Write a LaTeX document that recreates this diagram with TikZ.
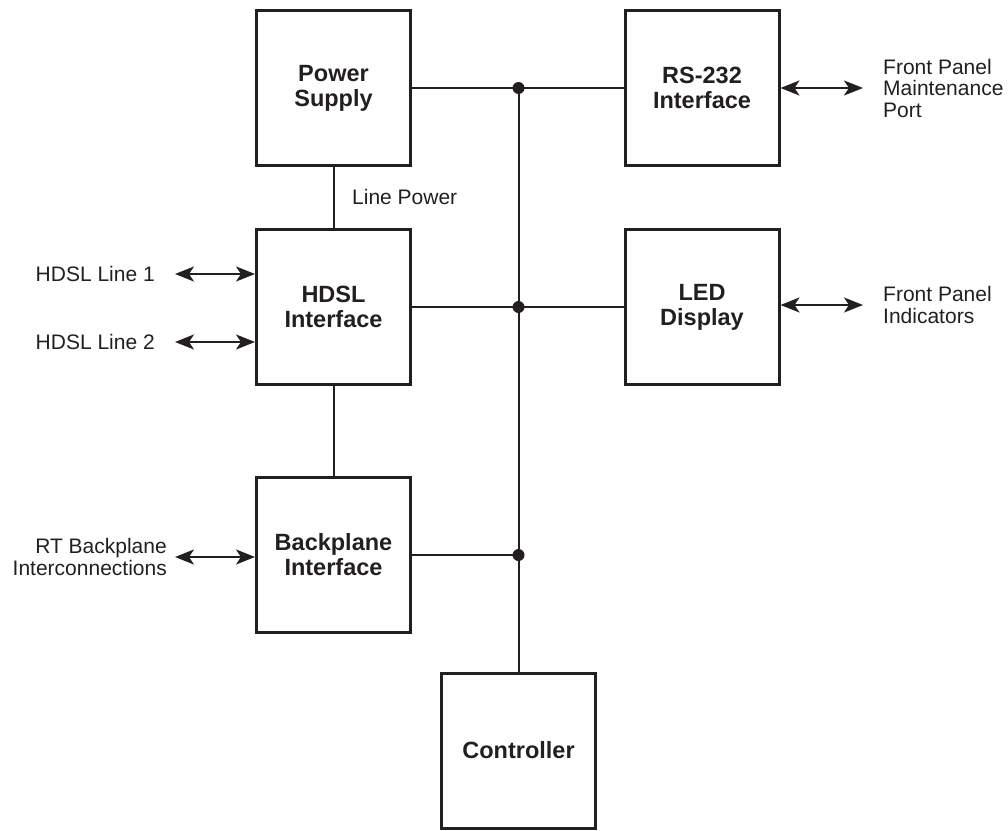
\documentclass[tikz,border=0pt]{standalone}
\usepackage{fontspec}
\setmainfont{Liberation Sans}
\usetikzlibrary{arrows.meta}
\definecolor{ink}{HTML}{231F20}
\begin{document}
\begin{tikzpicture}[x=1pt,y=-1pt, color=ink,
  blk/.style={draw, line width=3pt, minimum width=154pt, minimum height=155pt, inner sep=0pt, align=center, font=\fontsize{23.5}{25}\selectfont\bfseries},
  wire/.style={line width=2pt},
  io/.style={line width=2pt, {Stealth[length=19pt,width=15pt,inset=5pt]}-{Stealth[length=19pt,width=15pt,inset=5pt]}},
  lbl/.style={font=\fontsize{21}{21.5}\selectfont, inner sep=0pt},
  jdot/.style={circle, fill, inner sep=0pt, minimum size=12pt}]
\useasboundingbox (0,0) rectangle (1008,830);
% blocks
\node[blk] (ps)   at (333.5,88)  {Power\\Supply};
\node[blk] (rs)   at (702,88)    {RS-232\\Interface};
\node[blk] (hdsl) at (333.5,307) {HDSL\\Interface};
\node[blk] (led)  at (702,307)   {LED\\Display};
\node[blk] (bp)   at (333.5,555) {Backplane\\Interface};
\node[blk] (ctrl) at (518.5,750.5) {Controller};
% junctions
\node[jdot] (d1) at (ps -| ctrl) {};
\node[jdot] (d2) at (hdsl -| ctrl) {};
\node[jdot] (d3) at (bp -| ctrl) {};
% bus and wires
\draw[wire] (d1.center) -- (ctrl.north);
\draw[wire] (ps.east) -- (d1.center) -- (rs.west);
\draw[wire] (hdsl.east) -- (d2.center) -- (led.west);
\draw[wire] (bp.east) -- (d3.center);
\draw[wire] (ps.south) -- (hdsl.north);
\draw[wire] (hdsl.south) -- (bp.north);
% labels
\node[lbl, anchor=west] (lp) at (352,197) {Line Power};
\node[lbl, anchor=east] (l1) at (155,274) {HDSL Line 1};
\node[lbl, anchor=east] (l2) at (155,342) {HDSL Line 2};
\node[lbl, anchor=east, align=right] (rt) at (167,557) {RT Backplane\\Interconnections};
\node[lbl, anchor=west, align=left] (fp1) at (883,88) {Front Panel\\Maintenance\\Port};
\node[lbl, anchor=west, align=left] (fp2) at (883,305) {Front Panel\\Indicators};
% io arrows
\coordinate (a1) at (175,274);
\coordinate (a2) at (175,342);
\coordinate (a3) at (175,557);
\coordinate (a4) at (863,88);
\coordinate (a5) at (863,305);
\draw[io] (a1) -- (a1 -| hdsl.west);
\draw[io] (a2) -- (a2 -| hdsl.west);
\draw[io] (a3) -- (a3 -| bp.west);
\draw[io] (a4 -| rs.east) -- (a4);
\draw[io] (a5 -| led.east) -- (a5);
\end{tikzpicture}
\end{document}
